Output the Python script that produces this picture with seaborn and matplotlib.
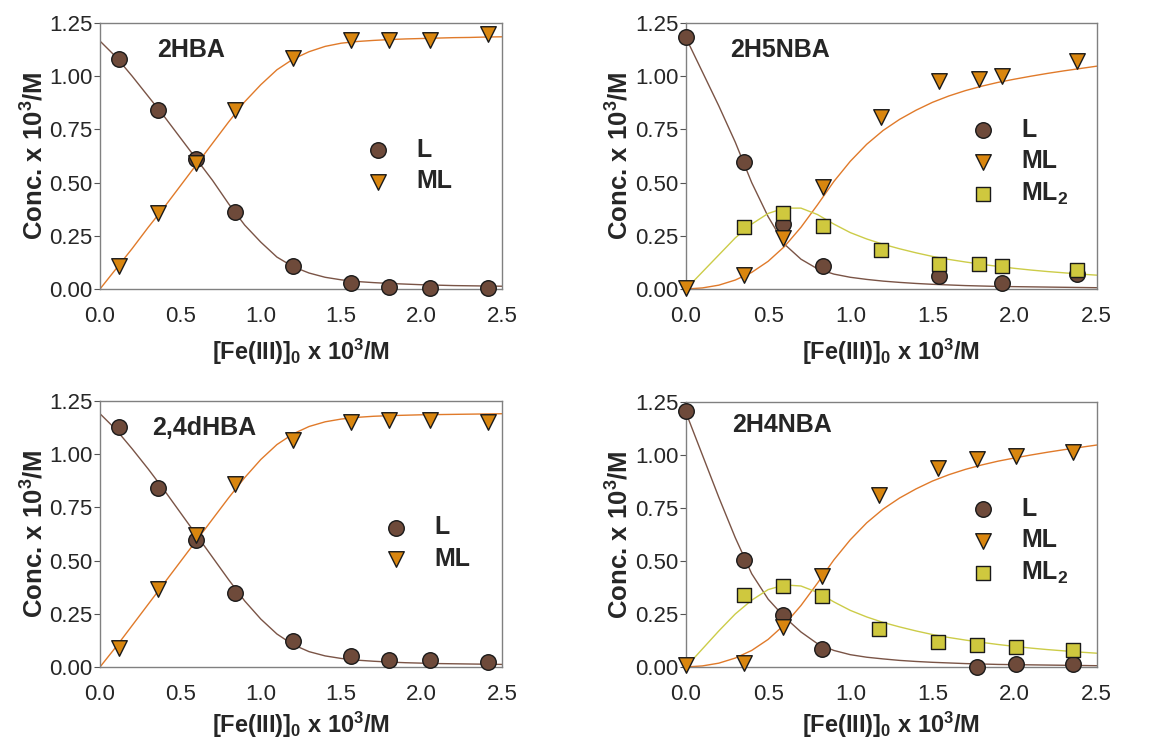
"""
Fe(III) speciation plots: free ligand (L), 1:1 complex (ML) and 1:2 complex (ML2)
versus total Fe(III) for four hydroxybenzoic acids. Markers are measured points,
lines are fitted speciation curves read off the original figure.
"""
import numpy as np
import pandas as pd
import matplotlib
matplotlib.use("Agg")
import matplotlib.pyplot as plt
from matplotlib.ticker import FormatStrFormatter
import seaborn as sns

# ---- measured points -------------------------------------------------------
HBA_X = [0.12, 0.36, 0.60, 0.84, 1.20, 1.56, 1.80, 2.05, 2.41]
HBA_L = [1.08, 0.84, 0.61, 0.36, 0.11, 0.03, 0.01, 0.005, 0.005]
HBA_ML = [0.11, 0.355, 0.59, 0.84, 1.085, 1.17, 1.17, 1.17, 1.20]

H5N_X = [0.00, 0.353, 0.59, 0.832, 1.19, 1.54, 1.786, 1.926, 2.378]
H5N_L = [1.184, 0.595, 0.305, 0.11, None, 0.06, None, 0.028, 0.07]
H5N_ML = [0.005, 0.064, 0.24, 0.48, 0.81, 0.975, 0.986, 1.00, 1.07]
H5N_ML2 = [None, 0.289, 0.355, 0.297, 0.182, 0.116, 0.119, 0.107, 0.088]

DHBA_X = [0.12, 0.36, 0.60, 0.84, 1.20, 1.56, 1.80, 2.05, 2.41]
DHBA_L = [1.128, 0.843, 0.598, 0.348, 0.121, 0.05, 0.034, 0.031, 0.022]
DHBA_ML = [0.09, 0.368, 0.62, 0.86, 1.065, 1.15, 1.16, 1.16, 1.15]

H4N_X = [0.00, 0.353, 0.588, 0.828, 1.177, 1.536, 1.77, 2.007, 2.358]
H4N_L = [1.208, 0.506, 0.247, 0.085, None, None, 0.0, 0.016, 0.013]
H4N_ML = [0.01, 0.02, 0.19, 0.43, 0.81, 0.94, 0.98, 0.995, 1.015]
H4N_ML2 = [None, 0.341, 0.38, 0.333, 0.181, 0.118, 0.102, 0.094, 0.079]

# ---- fitted curves (read at 0.1 steps) ------------------------------------
CURVE_X = [0.0, 0.1, 0.2, 0.3, 0.4, 0.5, 0.6, 0.7, 0.8, 0.9, 1.0, 1.1, 1.2,
           1.3, 1.4, 1.5, 1.6, 1.7, 1.8, 1.9, 2.0, 2.1, 2.2, 2.3, 2.4, 2.5]

HBA_L_FIT = [1.165, 1.09, 1.00, 0.905, 0.81, 0.71, 0.61, 0.51, 0.40, 0.30, 0.22,
             0.15, 0.105, 0.075, 0.055, 0.043, 0.035, 0.03, 0.026, 0.023, 0.02,
             0.018, 0.016, 0.015, 0.014, 0.013]
HBA_ML_FIT = [0.0, 0.095, 0.19, 0.29, 0.385, 0.485, 0.585, 0.685, 0.785, 0.88,
              0.96, 1.03, 1.08, 1.115, 1.14, 1.155, 1.163, 1.168, 1.172, 1.175,
              1.177, 1.179, 1.181, 1.182, 1.184, 1.185]

H5N_L_FIT = [1.18, 1.02, 0.86, 0.69, 0.50, 0.34, 0.21, 0.14, 0.095, 0.07, 0.055,
             0.045, 0.037, 0.031, 0.026, 0.022, 0.019, 0.016, 0.014, 0.012,
             0.011, 0.01, 0.009, 0.008, 0.007, 0.006]
H5N_ML_FIT = [0.0, 0.005, 0.018, 0.042, 0.078, 0.13, 0.20, 0.29, 0.395, 0.505,
              0.60, 0.68, 0.745, 0.797, 0.84, 0.877, 0.907, 0.932, 0.953, 0.971,
              0.986, 1.0, 1.013, 1.025, 1.036, 1.047]
H5N_ML2_FIT = [0.0, 0.08, 0.16, 0.24, 0.305, 0.355, 0.38, 0.38, 0.35, 0.305,
               0.265, 0.235, 0.21, 0.189, 0.17, 0.153, 0.139, 0.127, 0.116, 0.106,
               0.097, 0.089, 0.082, 0.076, 0.07, 0.065]

DHBA_L_FIT = [1.19, 1.115, 1.025, 0.93, 0.83, 0.725, 0.62, 0.515, 0.41, 0.31,
              0.225, 0.155, 0.105, 0.072, 0.052, 0.04, 0.032, 0.027, 0.023, 0.02,
              0.018, 0.016, 0.015, 0.014, 0.013, 0.012]
DHBA_ML_FIT = [0.0, 0.095, 0.195, 0.295, 0.395, 0.495, 0.595, 0.695, 0.795, 0.89,
               0.975, 1.045, 1.095, 1.13, 1.152, 1.165, 1.173, 1.178, 1.181,
               1.183, 1.185, 1.186, 1.187, 1.188, 1.189, 1.19]

H4N_L_FIT = [1.20, 1.00, 0.80, 0.61, 0.44, 0.32, 0.235, 0.165, 0.11, 0.078,
             0.058, 0.046, 0.038, 0.031, 0.026, 0.022, 0.019, 0.016, 0.014,
             0.012, 0.011, 0.01, 0.009, 0.008, 0.007, 0.006]
H4N_ML_FIT = [0.0, 0.005, 0.018, 0.042, 0.078, 0.13, 0.20, 0.29, 0.395, 0.505,
              0.60, 0.68, 0.745, 0.797, 0.84, 0.877, 0.907, 0.932, 0.953, 0.971,
              0.986, 1.0, 1.013, 1.025, 1.036, 1.047]
H4N_ML2_FIT = [0.0, 0.085, 0.17, 0.25, 0.315, 0.365, 0.387, 0.382, 0.352, 0.307,
               0.267, 0.236, 0.21, 0.189, 0.17, 0.153, 0.139, 0.127, 0.116, 0.106,
               0.097, 0.089, 0.082, 0.076, 0.07, 0.065]

X_TICKS = [0.0, 0.5, 1.0, 1.5, 2.0, 2.5]
Y_TICKS = [0.0, 0.25, 0.50, 0.75, 1.00, 1.25]

SPECIES = ["L", "ML", "ML2"]
LABELS = {"L": "L", "ML": "ML", "ML2": "ML$_2$"}
MARKERS = {"L": "o", "ML": "v", "ML2": "s"}
FILL = {"L": "#6e4a3a", "ML": "#d9860f", "ML2": "#cfc83e"}
LINE = {"L": "#7a5446", "ML": "#e07a2a", "ML2": "#cccc48"}

# title, x, points, fits, axes rect, title pos, legend anchor, xlabel pad
PANELS = [
    ("2HBA", HBA_X, {"L": HBA_L, "ML": HBA_ML},
     {"L": HBA_L_FIT, "ML": HBA_ML_FIT},
     [0.0857, 0.610, 0.3445, 0.359], (0.142, 0.90), (0.660, 0.568), 7),
    ("2H5NBA", H5N_X, {"L": H5N_L, "ML": H5N_ML, "ML2": H5N_ML2},
     {"L": H5N_L_FIT, "ML": H5N_ML_FIT, "ML2": H5N_ML2_FIT},
     [0.5878, 0.610, 0.352, 0.359], (0.107, 0.90), (0.692, 0.643), 7),
    ("2,4dHBA", DHBA_X, {"L": DHBA_L, "ML": DHBA_ML},
     {"L": DHBA_L_FIT, "ML": DHBA_ML_FIT},
     [0.0857, 0.0999, 0.3445, 0.359], (0.13, 0.90), (0.705, 0.571), 3),
    ("2H4NBA", H4N_X, {"L": H4N_L, "ML": H4N_ML, "ML2": H4N_ML2},
     {"L": H4N_L_FIT, "ML": H4N_ML_FIT, "ML2": H4N_ML2_FIT},
     [0.5878, 0.0999, 0.352, 0.3576], (0.112, 0.913), (0.692, 0.642), 3),
]

sns.set_style("white")
plt.rcParams["font.family"] = ["Liberation Sans", "DejaVu Sans"]
plt.rcParams["mathtext.fontset"] = "custom"
plt.rcParams["mathtext.rm"] = "Liberation Sans:bold"
plt.rcParams["mathtext.bf"] = "Liberation Sans:bold"
plt.rcParams["mathtext.default"] = "bf"


def draw_panel(ax, title, xs, points, fits, title_pos, leg_pos, xpad):
    for sp in SPECIES:
        if sp not in fits:
            continue
        sns.lineplot(x=CURVE_X, y=fits[sp], ax=ax, color=LINE[sp], lw=1.0,
                     sort=False, estimator=None, legend=False, zorder=2)
    for sp in SPECIES:
        if sp not in points:
            continue
        df = pd.DataFrame({"x": xs, "y": points[sp]}).dropna()
        sns.scatterplot(data=df, x="x", y="y", ax=ax, marker=MARKERS[sp],
                        s=125 if sp != "ML2" else 105, color=FILL[sp],
                        edgecolor="#1a1a1a", linewidth=1.0, label=LABELS[sp],
                        zorder=3, clip_on=False)

    ax.set_xlim(0, 2.5)
    ax.set_ylim(0, 1.25)
    ax.set_xticks(X_TICKS)
    ax.set_yticks(Y_TICKS)
    ax.xaxis.set_major_formatter(FormatStrFormatter("%.1f"))
    ax.yaxis.set_major_formatter(FormatStrFormatter("%.2f"))
    ax.tick_params(axis="x", direction="in", length=3, width=0.8, pad=12.5,
                   labelsize=16, color="#555555")
    ax.tick_params(axis="y", direction="out", length=4, width=0.8, pad=1.5,
                   labelsize=16, color="#555555", left=True)
    for s in ax.spines.values():
        s.set_color("#808080")
        s.set_linewidth(1.0)

    ax.set_xlabel(r"[Fe(III)]$_0$ x 10$^3$/M", fontsize=17, fontweight="bold",
                  labelpad=xpad)
    ax.set_ylabel(r"Conc. x 10$^3$/M", fontsize=18.5, fontweight="bold",
                  labelpad=1)
    ax.text(title_pos[0], title_pos[1], title, transform=ax.transAxes,
            fontsize=18, fontweight="bold", va="center", ha="left")
    ax.legend(loc="upper left", bbox_to_anchor=leg_pos, frameon=False,
              borderpad=0, borderaxespad=0, handlelength=1.0,
              handletextpad=1.05, labelspacing=0.3,
              prop={"size": 18, "weight": "bold"})


fig = plt.figure(figsize=(11.67, 7.41), dpi=100)
for title, xs, points, fits, rect, tpos, lpos, xpad in PANELS:
    ax = fig.add_axes(rect)
    draw_panel(ax, title, xs, points, fits, tpos, lpos, xpad)

fig.savefig("out.png", dpi=100, facecolor="white")
